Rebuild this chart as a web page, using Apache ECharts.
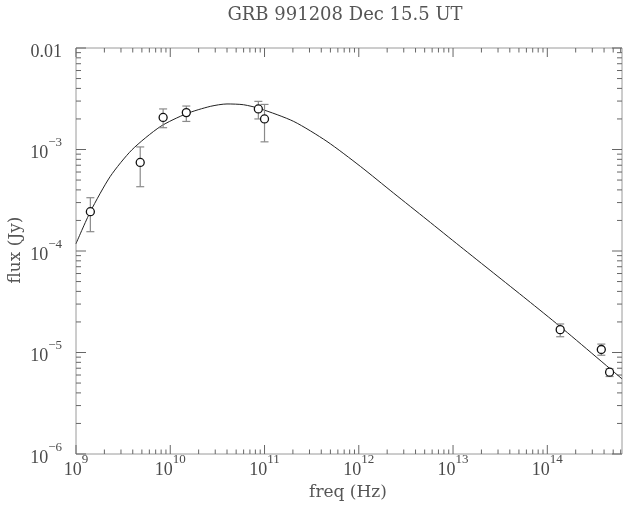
<!DOCTYPE html>
<html>
<head>
<meta charset="utf-8">
<script src="https://cdn.jsdelivr.net/npm/echarts@6/dist/echarts.min.js"></script>
<style>
html,body{margin:0;padding:0;background:#fff;}
#chart{width:623px;height:506px;}
</style>
</head>
<body>
<div id="chart"></div>
<script>
// ---- data ----
const obsFreq   = [1.42e9, 4.8e9, 8.4e9, 1.48e10, 8.6e10, 1.0e11, 1.37e14, 3.74e14, 4.58e14];
const obsFlux   = [2.44e-4, 7.46e-4, 2.07e-3, 2.31e-3, 2.51e-3, 2.0e-3, 1.68e-5, 1.07e-5, 6.4e-6];
const obsFluxLo = [1.55e-4, 4.3e-4, 1.64e-3, 1.89e-3, 2.0e-3, 1.19e-3, 1.43e-5, 9.4e-6, 5.8e-6];
const obsFluxHi = [3.35e-4, 1.06e-3, 2.51e-3, 2.68e-3, 2.98e-3, 2.78e-3, 1.91e-5, 1.21e-5, 6.9e-6];

const modelFreq = [1.0e9, 1.42e9, 2.31e9, 3.93e9, 7.83e9, 1.48e10, 2.66e10, 4.0e10, 6.0e10, 9.02e10,
                   2.04e11, 4.6e11, 1.04e12, 2.34e12, 5.3e12, 1.19e13, 2.69e13, 6.1e13, 1.37e14, 6.2e14];
const modelFlux = [1.18e-4, 2.44e-4, 5.43e-4, 9.95e-4, 1.68e-3, 2.25e-3, 2.66e-3, 2.81e-3, 2.76e-3, 2.52e-3,
                   1.89e-3, 1.20e-3, 6.82e-4, 3.72e-4, 2.03e-4, 1.11e-4, 6.07e-5, 3.31e-5, 1.80e-5, 5.5e-6];

const xTickExps = [9, 10, 11, 12, 13, 14];
const yTickExps = [-6, -5, -4, -3, -2];
const yTickLabels = {'-6': '10^-6', '-5': '10^-5', '-4': '10^-4', '-3': '10^-3', '-2': '0.01'};
const xMin = 1e9, xMax = 6.2e14, yMin = 1e-6, yMax = 1e-2;

const titleText = 'GRB 991208 Dec 15.5 UT';
const xName = 'freq (Hz)';
const yName = 'flux (Jy)';

// ---- tick values (major decades and 2..9 minor) ----
function tickValues(exps, lo, hi) {
  const out = [];
  const first = exps[0] - 1, last = exps[exps.length - 1] + 1;
  for (let e = first; e <= last; e++) {
    for (let k = 1; k <= 9; k++) {
      const v = k * Math.pow(10, e);
      if (v >= lo * 0.9999 && v <= hi * 1.0001) out.push([v, k === 1 ? 1 : 0]);
    }
  }
  return out;
}
const xTicks = tickValues(xTickExps, xMin, xMax).map(t => [t[0], yMin, t[1]]);
const yTicks = tickValues(yTickExps, yMin, yMax).map(t => [xMin, t[0], t[1]]);

const FONT = 'Liberation Serif';
const WFONT = 'DejaVu Serif';
const TXT = '#4a4a4a';
const rich = {
  b: {fontFamily: FONT, fontSize: 18, color: TXT, lineHeight: 26, verticalAlign: 'bottom'},
  s: {fontFamily: FONT, fontSize: 13, color: TXT, verticalAlign: 'top'}
};
function powLabel(v) {
  const lg = Math.log10(v);
  const e = Math.round(lg);
  if (Math.abs(lg - e) > 1e-6) return '';
  return e;
}

const chart = echarts.init(document.getElementById('chart'), null, {renderer: 'canvas'});
chart.setOption({
  animation: false,
  backgroundColor: '#fff',
  grid: {left: 76, top: 48, right: 1, bottom: 52, containLabel: false, outerBoundsMode: 'none',
         show: true, borderColor: '#9a9a9a', borderWidth: 1, backgroundColor: 'transparent'},
  graphic: [
    {type: 'text', x: 345, y: 15,
     style: {text: titleText, fontFamily: WFONT, fontSize: 18, fill: '#555', textAlign: 'center', textVerticalAlign: 'middle'}},
    {type: 'text', x: 348, y: 493,
     style: {text: xName, fontFamily: WFONT, fontSize: 17, fill: '#555', textAlign: 'center', textVerticalAlign: 'middle'}},
    {type: 'text', x: 16, y: 250, rotation: Math.PI / 2,
     style: {text: yName, fontFamily: WFONT, fontSize: 17, fill: '#555', textAlign: 'center', textVerticalAlign: 'middle'}}
  ],
  xAxis: {
    type: 'log', logBase: 10, min: xMin, max: xMax,
    axisLine: {show: false}, axisTick: {show: false}, splitLine: {show: false},
    axisLabel: {
      margin: -1, showMaxLabel: false, hideOverlap: false,
      formatter: function (v) {
        const e = powLabel(v);
        if (e === '' || xTickExps.indexOf(e) < 0) return '';
        return '{b|10}{s|' + e + '}';
      },
      rich: rich
    }
  },
  yAxis: {
    type: 'log', logBase: 10, min: yMin, max: yMax,
    axisLine: {show: false}, axisTick: {show: false}, splitLine: {show: false},
    axisLabel: {
      margin: 14,
      formatter: function (v) {
        const e = powLabel(v);
        if (e === '' || yTickExps.indexOf(e) < 0) return '';
        const lab = yTickLabels[String(e)];
        if (lab.indexOf('^') < 0) return '{b|' + lab + '}';
        const parts = lab.split('^');
        return '{b|' + parts[0] + '}{s|' + parts[1].replace('-', '\u2212') + '}';
      },
      rich: rich
    }
  },
  series: [
    {
      type: 'custom', name: 'xticks', data: xTicks, clip: false, silent: true, z: 3,
      encode: {x: 0, y: 1},
      renderItem: function (params, api) {
        const cs = params.coordSys;
        const p = api.coord([api.value(0), api.value(1)]);
        const len = api.value(2) ? 9 : 4.5;
        const st = {stroke: '#666', lineWidth: 1};
        return {type: 'group', children: [
          {type: 'line', shape: {x1: p[0], y1: cs.y + cs.height, x2: p[0], y2: cs.y + cs.height - len}, style: st},
          {type: 'line', shape: {x1: p[0], y1: cs.y, x2: p[0], y2: cs.y + len}, style: st}
        ]};
      }
    },
    {
      type: 'custom', name: 'yticks', data: yTicks, clip: false, silent: true, z: 3,
      encode: {x: 0, y: 1},
      renderItem: function (params, api) {
        const cs = params.coordSys;
        const p = api.coord([api.value(0), api.value(1)]);
        const len = api.value(2) ? 10 : 5;
        const st = {stroke: '#666', lineWidth: 1};
        return {type: 'group', children: [
          {type: 'line', shape: {x1: cs.x, y1: p[1], x2: cs.x + len, y2: p[1]}, style: st},
          {type: 'line', shape: {x1: cs.x + cs.width, y1: p[1], x2: cs.x + cs.width - len, y2: p[1]}, style: st}
        ]};
      }
    },
    {
      type: 'line', name: 'model', showSymbol: false, smooth: 0.25, silent: true, z: 4,
      data: modelFreq.map((f, i) => [f, modelFlux[i]]),
      lineStyle: {color: '#222', width: 1}
    },
    {
      type: 'custom', name: 'errors', silent: true, z: 5,
      data: obsFreq.map((f, i) => [f, obsFluxLo[i], obsFluxHi[i]]),
      encode: {x: 0, y: [1, 2]},
      renderItem: function (params, api) {
        const lo = api.coord([api.value(0), api.value(1)]);
        const hi = api.coord([api.value(0), api.value(2)]);
        const w = 4;
        const st = {stroke: '#8a8a8a', lineWidth: 1.2};
        return {type: 'group', children: [
          {type: 'line', shape: {x1: lo[0], y1: lo[1], x2: hi[0], y2: hi[1]}, style: st},
          {type: 'line', shape: {x1: lo[0] - w, y1: lo[1], x2: lo[0] + w, y2: lo[1]}, style: st},
          {type: 'line', shape: {x1: hi[0] - w, y1: hi[1], x2: hi[0] + w, y2: hi[1]}, style: st}
        ]};
      }
    },
    {
      type: 'scatter', name: 'obs', symbol: 'circle', symbolSize: 8, silent: true, z: 6,
      data: obsFreq.map((f, i) => [f, obsFlux[i]]),
      itemStyle: {color: '#fff', borderColor: '#111', borderWidth: 1.3, opacity: 1}
    }
  ]
});
</script>
</body>
</html>
